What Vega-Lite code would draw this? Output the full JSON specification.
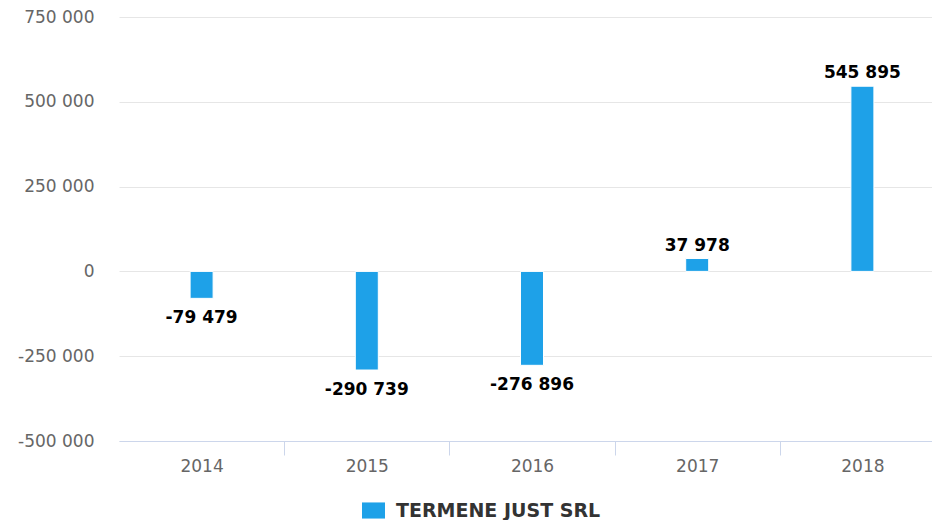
{
  "$schema": "https://vega.github.io/schema/vega-lite/v6.json",
  "width": 813,
  "height": 424,
  "autosize": "none",
  "padding": {"left": 119, "top": 17, "right": 0, "bottom": 79},
  "config": {
    "font": "DejaVu Sans",
    "view": {"stroke": null},
    "locale": {"number": {"decimal": ".", "thousands": " ", "grouping": [3], "currency": ["", ""], "minus": "-"}}
  },
  "data": {
    "values": [
      {"year": "2014", "value": -79479, "company": "TERMENE JUST SRL"},
      {"year": "2015", "value": -290739, "company": "TERMENE JUST SRL"},
      {"year": "2016", "value": -276896, "company": "TERMENE JUST SRL"},
      {"year": "2017", "value": 37978, "company": "TERMENE JUST SRL"},
      {"year": "2018", "value": 545895, "company": "TERMENE JUST SRL"}
    ]
  },
  "encoding": {
    "x": {
      "field": "year", "type": "nominal", "title": null,
      "scale": {"range": [0, 826], "paddingInner": 0, "paddingOuter": 0},
      "axis": {
        "labelAngle": 0, "labelFontSize": 17, "labelColor": "#666666", "labelFont": "DejaVu Sans",
        "domainColor": "#ccd6eb", "domainWidth": 1, "tickColor": "#ccd6eb", "tickWidth": 1, "tickSize": 14,
        "tickOpacity": {"condition": {"test": "datum.extra", "value": 0}, "value": 1},
        "tickBand": "extent", "labelPadding": 3, "grid": false
      }
    },
    "y": {
      "field": "value", "type": "quantitative", "title": null,
      "scale": {"domain": [-500000, 750000], "nice": false, "zero": false},
      "axis": {
        "values": [-500000, -250000, 0, 250000, 500000, 750000],
        "format": ",d", "labelFontSize": 17, "labelColor": "#666666", "labelFont": "DejaVu Sans",
        "domain": false, "ticks": false, "tickSize": 0, "labelPadding": 25,
        "gridColor": "#e6e6e6", "gridWidth": 1
      }
    }
  },
  "layer": [
    {
      "mark": {"type": "bar", "size": 23, "stroke": "white", "strokeWidth": 1},
      "encoding": {
        "y2": {"datum": 0},
        "color": {
          "field": "company", "type": "nominal",
          "scale": {"range": ["#1ea1e8"]},
          "legend": {
            "title": null, "orient": "none", "legendX": 243, "legendY": 482,
            "symbolType": "M-1,-0.7H1V0.7H-1Z", "symbolSize": 529, "symbolStrokeWidth": 0,
            "labelFontSize": 19, "labelFontWeight": "bold", "labelColor": "#333333",
            "labelFont": "DejaVu Sans", "labelOffset": 11, "labelLimit": 0, "padding": 0
          }
        }
      }
    },
    {
      "transform": [{"filter": "datum.value >= 0"}],
      "mark": {"type": "text", "baseline": "alphabetic", "dy": -8, "fontSize": 17, "fontWeight": "bold", "color": "#000000"},
      "encoding": {"text": {"field": "value", "type": "quantitative", "format": ",d"}}
    },
    {
      "transform": [{"filter": "datum.value < 0"}],
      "mark": {"type": "text", "baseline": "alphabetic", "dy": 25, "fontSize": 17, "fontWeight": "bold", "color": "#000000"},
      "encoding": {"text": {"field": "value", "type": "quantitative", "format": ",d"}}
    }
  ]
}
